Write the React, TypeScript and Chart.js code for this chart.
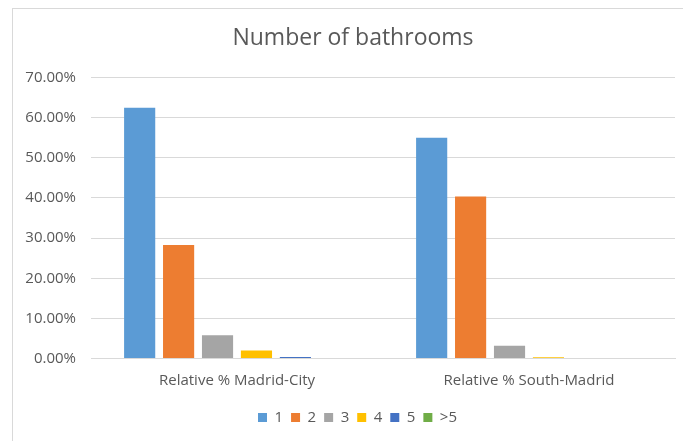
import React, { useEffect, useRef } from "react";
import { Chart, registerables } from "chart.js";

Chart.register(...registerables);

const categories = ["Relative % Madrid-City", "Relative % South-Madrid"];
const seriesNames = ["1", "2", "3", "4", "5", ">5"];
const series1 = [0.625, 0.55];
const series2 = [0.283, 0.404];
const series3 = [0.058, 0.032];
const series4 = [0.02, 0.003];
const series5 = [0.004, 0.0];
const series6 = [0.0, 0.0];
const seriesColors = ["#5B9BD5", "#ED7D31", "#A5A5A5", "#FFC000", "#4472C4", "#70AD47"];

const FONT = "'Open Sans', 'Liberation Sans', sans-serif";

const framePlugin = {
  id: "outerFrame",
  afterLayout(chart: any) {
    if (chart.titleBlock) chart.titleBlock.left = 31;
    if (chart.legend) chart.legend.left = 40;
  },
  beforeDraw(chart: any) {
    const ctx = chart.ctx;
    ctx.save();
    ctx.strokeStyle = "#d9d9d9";
    ctx.lineWidth = 1;
    ctx.strokeRect(12.5, 8.5, 800, 600);
    ctx.restore();
  },
};

export default function App() {
  const ref = useRef<HTMLCanvasElement>(null);
  useEffect(() => {
    const values = [series1, series2, series3, series4, series5, series6];
    const chart = new Chart(ref.current!, {
      type: "bar",
      data: {
        labels: categories,
        datasets: seriesNames.map((n, i) => ({
          label: n,
          data: values[i],
          backgroundColor: seriesColors[i],
          borderWidth: 0,
          categoryPercentage: 0.8,
          barPercentage: 0.8,
        })),
      },
      options: {
        animation: false,
        responsive: false,
        layout: { padding: { left: 0, right: 8, top: 0, bottom: 6 } },
        plugins: {
          title: {
            display: true,
            text: "Number of bathrooms",
            color: "#595959",
            font: { family: FONT, size: 23, weight: "normal" },
            padding: { top: 25, bottom: 25 },
          },
          legend: {
            position: "bottom",
            labels: {
              boxWidth: 9,
              boxHeight: 9,
              padding: 8,
              color: "#595959",
              font: { family: FONT, size: 15 },
            },
          },
          tooltip: { enabled: false },
        },
        scales: {
          x: {
            grid: { display: false, drawTicks: false },
            border: { color: "#d9d9d9" },
            ticks: { color: "#595959", font: { family: FONT, size: 15 }, padding: 13 },
            afterFit: (s: any) => {
              s.height = 43.5;
            },
          },
          y: {
            min: 0,
            max: 0.7,
            grid: { color: "#d9d9d9", drawTicks: false },
            border: { display: false },
            ticks: {
              stepSize: 0.1,
              color: "#595959",
              font: { family: FONT, size: 15 },
              padding: 15,
              callback: (v: any) => (Number(v) * 100).toFixed(2) + "%",
            },
            afterFit: (s: any) => {
              s.width = 91;
            },
          },
        },
      },
      plugins: [framePlugin],
    });
    return () => chart.destroy();
  }, []);
  return (
    <div style={{ position: "absolute", left: 0, top: 0, width: 683, height: 441, background: "#fff" }}>
      <canvas ref={ref} width={683} height={441} style={{ width: 683, height: 441 }} />
    </div>
  );
}
